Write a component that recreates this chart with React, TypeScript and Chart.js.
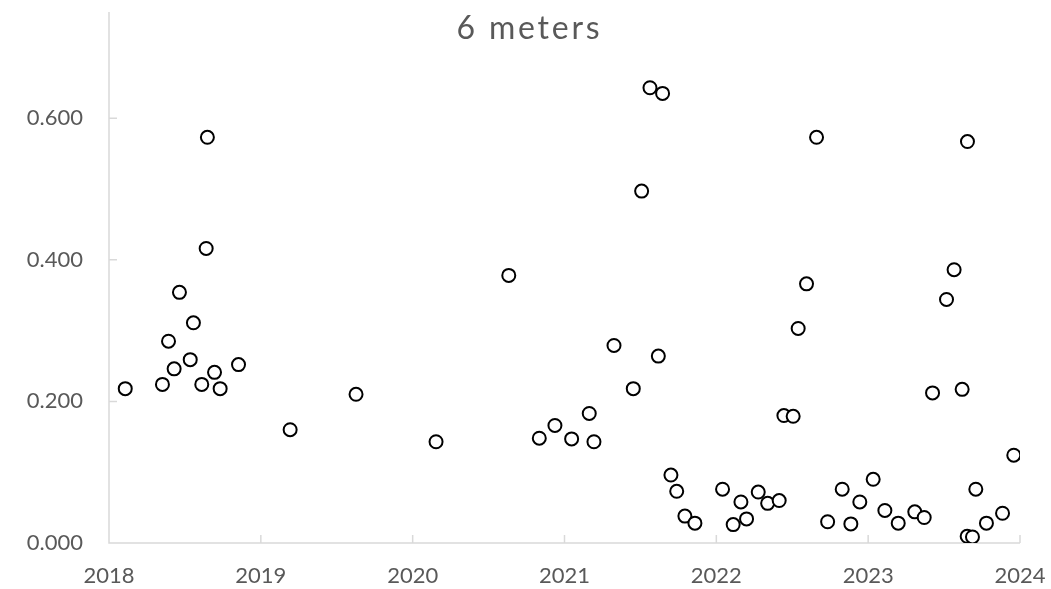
import React, { useEffect, useRef } from "react";
import { Chart, registerables } from "chart.js";

Chart.register(...registerables);

const TITLE = "6 meters";

const DATES: number[] = [
  2018.107, 2018.352, 2018.392, 2018.429, 2018.464, 2018.535, 2018.556, 2018.611,
  2018.640, 2018.648, 2018.695, 2018.732, 2018.853, 2019.193, 2019.627, 2020.154,
  2020.633, 2020.834, 2020.937, 2021.047, 2021.163, 2021.194, 2021.326, 2021.453,
  2021.508, 2021.563, 2021.618, 2021.646, 2021.701, 2021.739, 2021.793, 2021.859,
  2022.041, 2022.111, 2022.162, 2022.199, 2022.276, 2022.338, 2022.414, 2022.445,
  2022.506, 2022.539, 2022.594, 2022.660, 2022.733, 2022.829, 2022.886, 2022.945,
  2023.033, 2023.110, 2023.198, 2023.307, 2023.369, 2023.424, 2023.516, 2023.566,
  2023.619, 2023.652, 2023.654, 2023.687, 2023.709, 2023.779, 2023.885, 2023.959,
];

const VALUES: number[] = [
  0.218, 0.224, 0.285, 0.246, 0.354, 0.259, 0.311, 0.224,
  0.416, 0.573, 0.241, 0.218, 0.252, 0.160, 0.210, 0.143,
  0.378, 0.148, 0.166, 0.147, 0.183, 0.143, 0.279, 0.218,
  0.497, 0.643, 0.264, 0.635, 0.096, 0.073, 0.038, 0.028,
  0.076, 0.026, 0.058, 0.034, 0.072, 0.056, 0.060, 0.180,
  0.179, 0.303, 0.366, 0.573, 0.030, 0.076, 0.027, 0.058,
  0.090, 0.046, 0.028, 0.044, 0.036, 0.212, 0.344, 0.386,
  0.217, 0.0095, 0.567, 0.0085, 0.076, 0.028, 0.042, 0.124,
];

const X_TICKS: number[] = [2018, 2019, 2020, 2021, 2022, 2023, 2024];
const Y_TICKS: number[] = [0, 0.2, 0.4, 0.6];

const TEXT_COLOR = "#595959";
const AXIS_COLOR = "#d9d9d9";

const axesPlugin = {
  id: "excelAxes",
  beforeDatasetsDraw(chart: any) {
    const { ctx, chartArea, scales } = chart;
    const { left, right, top, bottom } = chartArea;
    ctx.save();
    ctx.strokeStyle = AXIS_COLOR;
    ctx.lineWidth = 1.5;
    ctx.beginPath();
    ctx.moveTo(left, top);
    ctx.lineTo(left, bottom);
    ctx.lineTo(right, bottom);
    X_TICKS.forEach((v) => {
      const px = scales.x.getPixelForValue(v);
      if (Math.abs(px - left) < 1) return;
      ctx.moveTo(px, bottom);
      ctx.lineTo(px, bottom - 8);
    });
    Y_TICKS.forEach((v) => {
      const py = scales.y.getPixelForValue(v);
      if (Math.abs(py - bottom) < 1) return;
      ctx.moveTo(left, py);
      ctx.lineTo(left + 8, py);
    });
    ctx.stroke();
    ctx.restore();
  },
  afterDraw(chart: any) {
    const { ctx } = chart;
    ctx.save();
    ctx.font = "32px Lato";
    try {
      (ctx as any).letterSpacing = "2.8px";
    } catch (e) {}
    ctx.fillStyle = TEXT_COLOR;
    ctx.textAlign = "center";
    ctx.textBaseline = "alphabetic";
    ctx.fillText(TITLE, 529.5, 38.5);
    ctx.restore();
  },
};

export default function App() {
  const ref = useRef<HTMLCanvasElement | null>(null);

  useEffect(() => {
    if (!ref.current) return;
    const chart = new Chart(ref.current, {
      type: "scatter",
      data: {
        datasets: [
          {
            label: TITLE,
            data: DATES.map((d, i) => ({ x: d, y: VALUES[i] })),
            pointStyle: "circle",
            pointRadius: 6.5,
            pointBorderWidth: 2,
            pointBorderColor: "#000000",
            pointBackgroundColor: "#ffffff",
            pointHoverRadius: 6.5,
          },
        ],
      },
      options: {
        responsive: false,
        animation: false,
        layout: { padding: { top: 12, right: 31, left: 0, bottom: 0 } },
        plugins: {
          legend: { display: false },
          title: { display: false },
          tooltip: { enabled: false },
        },
        scales: {
          x: {
            type: "linear",
            min: 2018,
            max: 2024,
            grid: { display: false, drawTicks: false },
            border: { display: false },
            afterBuildTicks: (s: any) => {
              s.ticks = X_TICKS.map((v) => ({ value: v }));
            },
            afterFit: (s: any) => {
              s.height = 46;
              s.paddingLeft = 0;
              s.paddingRight = 0;
            },
            ticks: {
              padding: 20,
              color: TEXT_COLOR,
              font: { family: "Lato", size: 22 },
              maxRotation: 0,
              autoSkip: false,
              callback: (v: any) => String(v),
            },
          },
          y: {
            type: "linear",
            min: 0,
            max: 0.75,
            grid: { display: false, drawTicks: false },
            border: { display: false },
            afterBuildTicks: (s: any) => {
              s.ticks = Y_TICKS.map((v) => ({ value: v }));
            },
            afterFit: (s: any) => {
              s.width = 109;
              s.paddingTop = 0;
              s.paddingBottom = 0;
            },
            ticks: {
              padding: 26,
              color: TEXT_COLOR,
              font: { family: "Lato", size: 22 },
              autoSkip: false,
              callback: (v: any) => Number(v).toFixed(3),
            },
          },
        },
      },
      plugins: [axesPlugin],
    });
    return () => chart.destroy();
  }, []);

  return (
    <div style={{ position: "fixed", left: 0, top: 0, width: 1051, height: 589, background: "#fff" }}>
      <canvas ref={ref} width={1051} height={589} />
    </div>
  );
}
